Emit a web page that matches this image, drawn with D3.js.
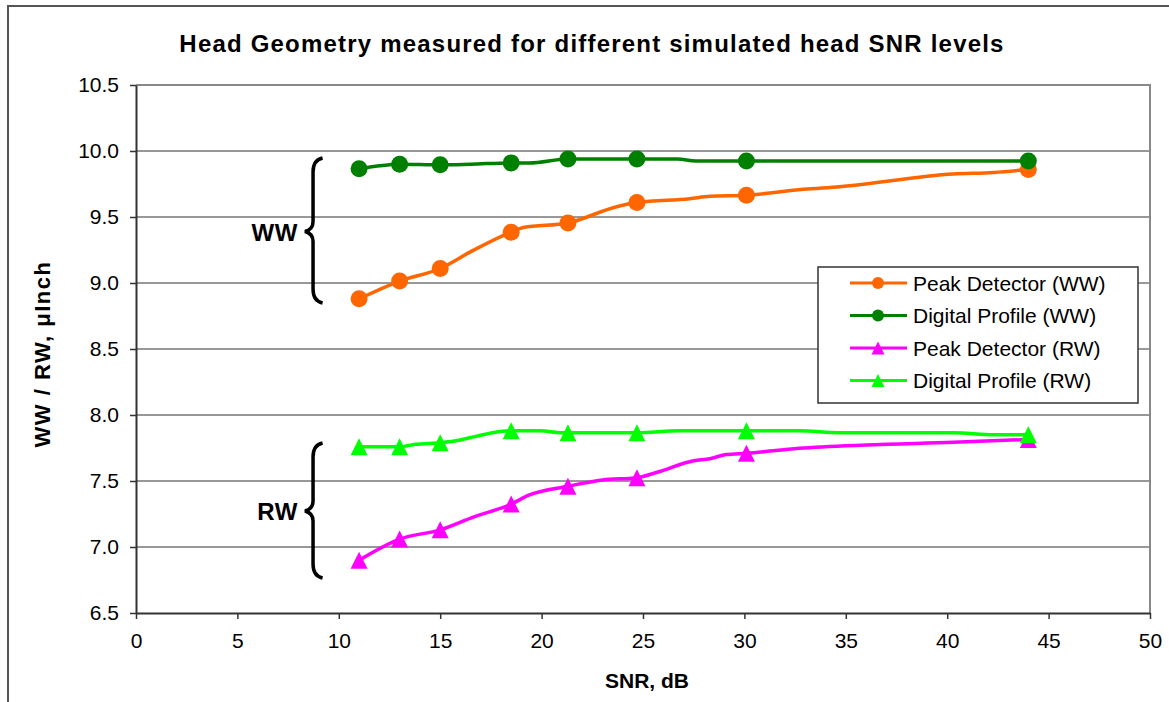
<!DOCTYPE html>
<html>
<head>
<meta charset="utf-8">
<script src="https://cdn.jsdelivr.net/npm/d3@7"></script>
<style>
  body { margin: 0; background: #fff; }
  svg { display: block; font-family: Arial, "Liberation Sans", sans-serif; }
</style>
</head>
<body>
<div id="chart"></div>
<script>
// marker positions (SNR, dB) and values
const snrMarkers = [11, 13, 15, 18.5, 21.3, 24.7, 30.1, 44];
const peakWW = [8.88, 9.015, 9.11, 9.385, 9.455, 9.61, 9.665, 9.86];
const digitalWW = [9.865, 9.90, 9.895, 9.91, 9.94, 9.94, 9.925, 9.925];
const peakRW = [6.90, 7.06, 7.13, 7.325, 7.46, 7.525, 7.71, 7.815];
const digitalRW = [7.76, 7.76, 7.79, 7.88, 7.865, 7.865, 7.88, 7.85];

// line traces (include unmarked points)
const peakWWLine = [[11, 8.88], [13, 9.015], [15, 9.11], [16.6, 9.245], [18.5, 9.385], [19.1, 9.42],
  [21.3, 9.455], [23.7, 9.578], [24.7, 9.61], [27.3, 9.639], [28.3, 9.657], [30.1, 9.665],
  [32.9, 9.71], [34.7, 9.73], [40.3, 9.826], [42.3, 9.838], [44, 9.86]];
const digitalWWLine = [[11, 9.865], [13, 9.90], [15, 9.895], [16.5, 9.90], [18.5, 9.91], [19.4, 9.91],
  [21.3, 9.94], [24.7, 9.94], [26.7, 9.94], [27.6, 9.925], [30.1, 9.925], [44, 9.925]];
const peakRWLine = [[11, 6.90], [13, 7.06], [15, 7.13], [16.6, 7.225], [18.5, 7.325], [19.4, 7.394],
  [21.3, 7.46], [23.0, 7.508], [24.7, 7.525], [25.7, 7.566], [27.5, 7.654], [28.3, 7.669],
  [29.1, 7.70], [30.1, 7.71], [32.7, 7.748], [36.0, 7.773], [40.3, 7.793], [44, 7.815]];
const digitalRWLine = [[11, 7.76], [13, 7.76], [13.8, 7.778], [15, 7.79], [15.7, 7.803], [16.8, 7.84],
  [17.6, 7.866], [18.5, 7.88], [19.9, 7.88], [20.9, 7.866], [21.3, 7.865], [24.7, 7.865],
  [26.8, 7.88], [30.1, 7.88], [32.7, 7.88], [34.7, 7.866], [40.3, 7.866], [42.3, 7.85], [44, 7.85]];

const xTicks = [0, 5, 10, 15, 20, 25, 30, 35, 40, 45, 50];
const yTicks = [6.5, 7.0, 7.5, 8.0, 8.5, 9.0, 9.5, 10.0, 10.5];

const series = [
  { name: "Peak Detector (WW)", color: "#FF6600", shape: "circle", values: peakWW, line: peakWWLine },
  { name: "Digital Profile (WW)", color: "#008000", shape: "circle", values: digitalWW, line: digitalWWLine },
  { name: "Peak Detector (RW)", color: "#FF00FF", shape: "triangle", values: peakRW, line: peakRWLine },
  { name: "Digital Profile (RW)", color: "#00FF00", shape: "triangle", values: digitalRW, line: digitalRWLine }
];

// group braces (in data units)
const groups = [
  { label: "WW", top: 9.947, mid: 9.39, bottom: 8.848 },
  { label: "RW", top: 7.788, mid: 7.273, bottom: 6.765 }
];

const width = 1169, height = 702;
const margin = { left: 136, right: 19, top: 85, bottom: 89 };

const svg = d3.select('#chart').append('svg')
    .attr('width', width)
    .attr('height', height);

// outer chart border
svg.append('rect')
   .attr('x', 8).attr('y', 6)
   .attr('width', width).attr('height', height)
   .attr('fill', 'none')
   .attr('stroke', '#555')
   .attr('stroke-width', 2);

const x = d3.scaleLinear().domain([0, 50]).range([margin.left, width - margin.right]);
const y = d3.scaleLinear().domain([6.5, 10.5]).range([height - margin.bottom, margin.top]);

// gridlines
svg.append('g')
   .selectAll('line')
   .data(yTicks.filter(d => d > 6.5 && d < 10.5))
   .join('line')
   .attr('x1', x(0)).attr('x2', x(50))
   .attr('y1', d => y(d)).attr('y2', d => y(d))
   .attr('stroke', '#333')
   .attr('stroke-width', 1);

// plot area border (top/right grey)
svg.append('path')
   .attr('d', `M${x(0)},${y(10.5)}H${x(50)}V${y(6.5)}`)
   .attr('fill', 'none')
   .attr('stroke', '#888')
   .attr('stroke-width', 2);

// axes
const xAxis = svg.append('g')
   .attr('transform', `translate(0,${y(6.5)})`)
   .call(d3.axisBottom(x).tickValues(xTicks).tickSize(6).tickSizeOuter(0).tickPadding(14));
const yAxis = svg.append('g')
   .attr('transform', `translate(${x(0)},0)`)
   .call(d3.axisLeft(y).tickValues(yTicks).tickFormat(d3.format('.1f')).tickSize(6).tickSizeOuter(0).tickPadding(11));

[xAxis, yAxis].forEach(a => {
  a.select('.domain').attr('stroke', '#333').attr('stroke-width', 2);
  a.selectAll('.tick line').attr('stroke', '#333').attr('stroke-width', 1.5);
  a.selectAll('.tick text')
   .attr('font-size', '21px')
   .attr('font-family', 'Arial, "Liberation Sans", sans-serif')
   .attr('fill', '#000');
});

// lines
const line = d3.line()
    .x(d => x(d[0]))
    .y(d => y(d[1]))
    .curve(d3.curveMonotoneX);

const triangle = (s) => `M0,${-s / 2}L${s / 2},${s / 2}L${-s / 2},${s / 2}Z`;

series.forEach(s => {
  svg.append('path')
     .datum(s.line)
     .attr('fill', 'none')
     .attr('stroke', s.color)
     .attr('stroke-width', 3.5)
     .attr('stroke-linejoin', 'round')
     .attr('d', line);
});

series.forEach(s => {
  const g = svg.append('g');
  if (s.shape === 'circle') {
    g.selectAll('circle')
     .data(snrMarkers)
     .join('circle')
     .attr('cx', d => x(d))
     .attr('cy', (d, i) => y(s.values[i]))
     .attr('r', 8.5)
     .attr('fill', s.color);
  } else {
    g.selectAll('path')
     .data(snrMarkers)
     .join('path')
     .attr('transform', (d, i) => `translate(${x(d)},${y(s.values[i])})`)
     .attr('d', triangle(17))
     .attr('fill', s.color);
  }
});

// braces with labels
groups.forEach(gr => {
  const bx = x(8.73), tx = x(8.33), ex = x(9.2);
  const t = y(gr.top), m = y(gr.mid), b = y(gr.bottom);
  svg.append('path')
     .attr('d', `M${ex},${t} Q${bx},${t + 2} ${bx},${t + 14} L${bx},${m - 10} Q${bx},${m - 2} ${tx},${m}` +
                ` Q${bx},${m + 2} ${bx},${m + 10} L${bx},${b - 14} Q${bx},${b - 2} ${ex},${b}`)
     .attr('fill', 'none')
     .attr('stroke', '#000')
     .attr('stroke-width', 3.5);
  svg.append('text')
     .attr('x', tx - 7)
     .attr('y', m + 9)
     .attr('text-anchor', 'end')
     .attr('font-size', '24px')
     .attr('font-weight', 'bold')
     .attr('letter-spacing', '0.5px')
     .text(gr.label);
});

// legend
const legend = svg.append('g').attr('transform', 'translate(818,267)');
legend.append('rect')
      .attr('width', 320).attr('height', 136)
      .attr('fill', '#fff')
      .attr('stroke', '#333')
      .attr('stroke-width', 1.5);
series.forEach((s, i) => {
  const ly = 16 + i * 32.5;
  legend.append('line')
        .attr('x1', 32).attr('x2', 89)
        .attr('y1', ly).attr('y2', ly)
        .attr('stroke', s.color)
        .attr('stroke-width', 3);
  if (s.shape === 'circle') {
    legend.append('circle').attr('cx', 60).attr('cy', ly).attr('r', 6).attr('fill', s.color);
  } else {
    legend.append('path').attr('transform', `translate(60,${ly})`).attr('d', triangle(13)).attr('fill', s.color);
  }
  legend.append('text')
        .attr('x', 95)
        .attr('y', ly + 7.5)
        .attr('font-size', '21px')
        .text(s.name);
});

// title and axis labels
svg.append('text')
   .attr('x', 592)
   .attr('y', 52)
   .attr('text-anchor', 'middle')
   .attr('font-size', '24px')
   .attr('font-weight', 'bold')
   .attr('letter-spacing', '1.2px')
   .text('Head Geometry measured for different simulated head SNR levels');

svg.append('text')
   .attr('x', 647)
   .attr('y', 688)
   .attr('text-anchor', 'middle')
   .attr('font-size', '21px')
   .attr('font-weight', 'bold')
   .text('SNR, dB');

svg.append('text')
   .attr('transform', 'translate(50,354) rotate(-90)')
   .attr('text-anchor', 'middle')
   .attr('font-size', '22px')
   .attr('font-weight', 'bold')
   .attr('letter-spacing', '1.5px')
   .text('WW / RW, μInch');
</script>
</body>
</html>
